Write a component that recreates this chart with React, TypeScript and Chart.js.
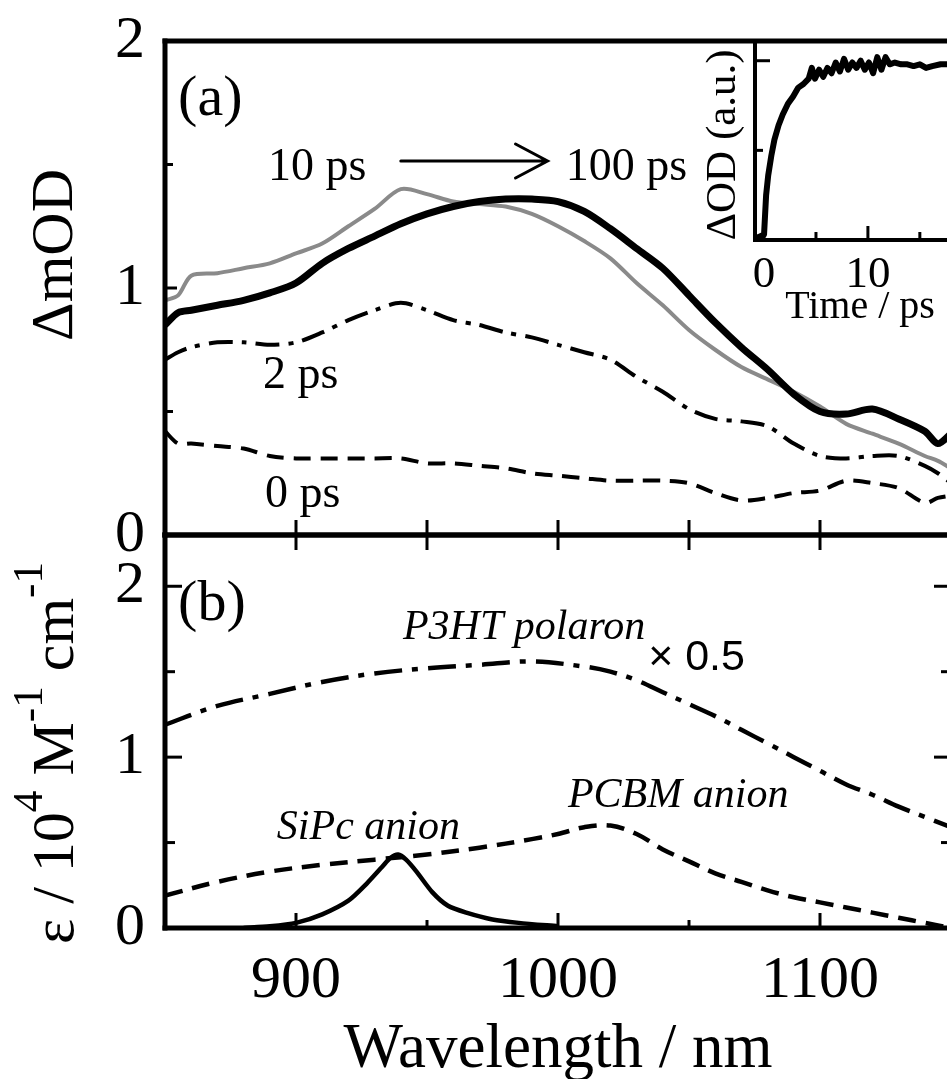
import React, { useEffect, useRef } from 'react';
import { Chart, registerables } from 'chart.js';

Chart.register(...registerables);

const W = 960;
const H = 1079;
const SERIF = '"Liberation Serif", "Times New Roman", serif';
const SANS = '"Liberation Sans", Arial, sans-serif';

// ---------- Panel (a): transient absorption spectra ----------
const WL_A = [850, 855, 860, 870, 880, 890, 900, 910, 920, 930, 940, 950, 960, 970, 980, 990, 1000, 1010, 1020, 1030, 1040, 1050, 1060, 1070, 1080, 1090, 1100, 1110, 1120, 1130, 1140, 1145, 1150];
const OD_100PS = [0.85, 0.9, 0.91, 0.93, 0.95, 0.98, 1.02, 1.1, 1.16, 1.21, 1.26, 1.3, 1.33, 1.35, 1.36, 1.36, 1.35, 1.31, 1.24, 1.16, 1.08, 0.97, 0.86, 0.76, 0.67, 0.57, 0.5, 0.49, 0.51, 0.47, 0.42, 0.37, 0.41];
const OD_10PS = [0.95, 0.97, 1.05, 1.06, 1.08, 1.1, 1.14, 1.18, 1.25, 1.32, 1.4, 1.38, 1.35, 1.34, 1.33, 1.3, 1.25, 1.19, 1.12, 1.02, 0.93, 0.83, 0.75, 0.68, 0.63, 0.58, 0.52, 0.45, 0.41, 0.37, 0.32, 0.3, 0.27];
const OD_2PS = [0.71, 0.74, 0.76, 0.78, 0.78, 0.77, 0.78, 0.82, 0.87, 0.91, 0.94, 0.91, 0.87, 0.85, 0.82, 0.8, 0.77, 0.74, 0.71, 0.64, 0.58, 0.51, 0.47, 0.46, 0.44, 0.37, 0.32, 0.31, 0.32, 0.32, 0.28, 0.25, 0.21];
const OD_0PS = [0.42, 0.37, 0.37, 0.36, 0.35, 0.32, 0.31, 0.31, 0.31, 0.31, 0.31, 0.29, 0.29, 0.28, 0.27, 0.25, 0.24, 0.23, 0.22, 0.22, 0.22, 0.21, 0.17, 0.14, 0.15, 0.17, 0.18, 0.22, 0.21, 0.19, 0.13, 0.15, 0.16];

// ---------- Panel (b): reference absorption spectra ----------
const WL_P3HT = [850, 870, 890, 910, 930, 950, 970, 990, 1010, 1020, 1030, 1040, 1050, 1060, 1070, 1080, 1090, 1100, 1110, 1120, 1130, 1140, 1150];
const EPS_P3HT = [1.19, 1.3, 1.37, 1.44, 1.49, 1.52, 1.54, 1.56, 1.53, 1.5, 1.45, 1.38, 1.31, 1.24, 1.16, 1.08, 1.0, 0.92, 0.84, 0.78, 0.71, 0.65, 0.59];
const WL_PCBM = [850, 870, 890, 910, 930, 950, 970, 990, 1000, 1010, 1020, 1030, 1040, 1050, 1060, 1070, 1080, 1090, 1100, 1110, 1120, 1130, 1140, 1150];
const EPS_PCBM = [0.19, 0.27, 0.33, 0.37, 0.4, 0.43, 0.47, 0.52, 0.55, 0.59, 0.6, 0.55, 0.46, 0.39, 0.32, 0.27, 0.22, 0.18, 0.15, 0.12, 0.09, 0.06, 0.03, 0.0];
const WL_SIPC = [880, 890, 900, 910, 920, 927, 933, 936, 939, 942, 946, 952, 958, 965, 975, 985, 1000];
const EPS_SIPC = [0.0, 0.01, 0.03, 0.08, 0.16, 0.26, 0.36, 0.41, 0.43, 0.4, 0.33, 0.21, 0.13, 0.09, 0.05, 0.03, 0.01];

// ---------- Inset: kinetic trace ----------
const TIME = [-0.8, -0.4, 0, 0.2, 0.4, 0.7, 1.0, 1.4, 1.8, 2.3, 2.8, 3.3, 3.8, 4.3, 4.6, 4.9, 5.3, 5.7, 6.1, 6.5, 6.9, 7.3, 7.7, 8.1, 8.5, 8.9, 9.3, 9.7, 10.1, 10.5, 10.9, 11.3, 11.7, 12.1, 12.6, 13.2, 13.8, 14.4, 15.0, 15.6, 16.2, 17.0, 18.0];
const KINETIC = [0.01, 0.02, 0.03, 0.25, 0.36, 0.47, 0.56, 0.64, 0.7, 0.76, 0.8, 0.85, 0.87, 0.9, 0.96, 0.9, 0.95, 0.91, 0.96, 0.93, 0.99, 0.94, 1.01, 0.95, 0.99, 0.96, 1.0, 0.95, 0.99, 0.93, 1.02, 0.95, 1.02, 0.98, 0.99, 0.98, 0.98, 0.97, 0.98, 0.96, 0.97, 0.98, 0.98];

// ---------- Tick labels ----------
const X_TICK_LABELS = [900, 1000, 1100];
const X_TICKS_ALL = [900, 950, 1000, 1050, 1100];
const Y_TICK_LABELS_A = [0, 1, 2];
const Y_TICK_LABELS_B = [0, 1, 2];
const INSET_X_LABELS = [0, 10];

type Side = 'top' | 'bottom' | 'left' | 'right';
type Txt = { t: string; x: number; y: number; font: string; align?: CanvasTextAlign; rot?: number; data?: boolean };
type Seg = { t: string; sup?: boolean };
type Decor = {
  frame: { sides: Side[]; width: number };
  ticks: { side: Side; values: number[]; len: number }[];
  xLabels?: { values: number[]; font: string; offset: number };
  yLabels?: { values: number[]; font: string; offset: number };
  texts: Txt[];
  rich?: { segs: Seg[]; x: number; y: number; size: number };
  arrow?: { from: [number, number]; to: [number, number] };
};

function pts(xs: number[], ys: number[]) {
  return xs.map((x, i) => ({ x, y: ys[i] }));
}

function drawDecor(chart: any, d: Decor) {
  const ctx: CanvasRenderingContext2D = chart.ctx;
  const { left, right, top, bottom } = chart.chartArea;
  const sx = chart.scales.x;
  const sy = chart.scales.y;
  ctx.save();
  ctx.strokeStyle = '#000';
  ctx.fillStyle = '#000';
  // ticks
  ctx.lineWidth = 3;
  ctx.lineCap = 'butt';
  for (const t of d.ticks) {
    for (const v of t.values) {
      ctx.beginPath();
      if (t.side === 'bottom' || t.side === 'top') {
        const p = sx.getPixelForValue(v);
        const y0 = t.side === 'bottom' ? bottom : top;
        const dir = t.side === 'bottom' ? -1 : 1;
        ctx.moveTo(p, y0);
        ctx.lineTo(p, y0 + dir * t.len);
      } else {
        const p = sy.getPixelForValue(v);
        const x0 = t.side === 'left' ? left : right;
        const dir = t.side === 'left' ? 1 : -1;
        ctx.moveTo(x0, p);
        ctx.lineTo(x0 + dir * t.len, p);
      }
      ctx.stroke();
    }
  }
  // frame
  ctx.lineWidth = d.frame.width;
  ctx.lineCap = 'square';
  for (const s of d.frame.sides) {
    ctx.beginPath();
    if (s === 'top') { ctx.moveTo(left, top); ctx.lineTo(right, top); }
    if (s === 'bottom') { ctx.moveTo(left, bottom); ctx.lineTo(right, bottom); }
    if (s === 'left') { ctx.moveTo(left, top); ctx.lineTo(left, bottom); }
    if (s === 'right') { ctx.moveTo(right, top); ctx.lineTo(right, bottom); }
    ctx.stroke();
  }
  // tick labels
  ctx.textBaseline = 'alphabetic';
  if (d.xLabels) {
    ctx.font = d.xLabels.font;
    ctx.textAlign = 'center';
    for (const v of d.xLabels.values) {
      ctx.fillText(String(v), sx.getPixelForValue(v), bottom + d.xLabels.offset);
    }
  }
  if (d.yLabels) {
    ctx.font = d.yLabels.font;
    ctx.textAlign = 'right';
    ctx.textBaseline = 'middle';
    for (const v of d.yLabels.values) {
      ctx.fillText(String(v), left - d.yLabels.offset, sy.getPixelForValue(v));
    }
  }
  // texts
  for (const s of d.texts) {
    let px = s.x;
    let py = s.y;
    if (s.data) {
      px = sx.getPixelForValue(s.x);
      py = sy.getPixelForValue(s.y);
    }
    ctx.save();
    ctx.translate(px, py);
    if (s.rot) ctx.rotate(s.rot);
    ctx.font = s.font;
    ctx.textAlign = s.align ?? 'left';
    ctx.textBaseline = 'alphabetic';
    ctx.fillText(s.t, 0, 0);
    ctx.restore();
  }
  // rich rotated title
  if (d.rich) {
    const r = d.rich;
    ctx.save();
    ctx.translate(r.x, r.y);
    ctx.rotate(-Math.PI / 2);
    ctx.textAlign = 'left';
    ctx.textBaseline = 'alphabetic';
    let cx = 0;
    for (const g of r.segs) {
      const fs = g.sup ? r.size * 0.72 : r.size;
      ctx.font = `${fs}px ${SERIF}`;
      ctx.fillText(g.t, cx, g.sup ? -r.size * 0.52 : 0);
      cx += ctx.measureText(g.t).width;
    }
    ctx.restore();
  }
  // arrow
  if (d.arrow) {
    const x0 = sx.getPixelForValue(d.arrow.from[0]);
    const y0 = sy.getPixelForValue(d.arrow.from[1]);
    const x1 = sx.getPixelForValue(d.arrow.to[0]);
    const y1 = sy.getPixelForValue(d.arrow.to[1]);
    ctx.lineWidth = 3;
    ctx.lineCap = 'round';
    ctx.beginPath();
    ctx.moveTo(x0, y0);
    ctx.lineTo(x1, y1);
    ctx.moveTo(x1 - 32, y1 - 17);
    ctx.lineTo(x1, y1);
    ctx.lineTo(x1 - 32, y1 + 17);
    ctx.stroke();
  }
  ctx.restore();
}

function build(
  canvas: HTMLCanvasElement,
  datasets: any[],
  xr: [number, number],
  yr: [number, number],
  padding: { left: number; top: number; right: number; bottom: number },
  decor: Decor,
  id: string
) {
  return new Chart(canvas, {
    type: 'line',
    data: { datasets },
    options: {
      animation: false,
      responsive: false,
      devicePixelRatio: 1,
      events: [],
      layout: { padding },
      plugins: { legend: { display: false }, tooltip: { enabled: false }, title: { display: false } },
      elements: { point: { radius: 0 }, line: { borderJoinStyle: 'round' } },
      scales: {
        x: { type: 'linear', min: xr[0], max: xr[1], display: false },
        y: { type: 'linear', min: yr[0], max: yr[1], display: false },
      },
    },
    plugins: [{ id, afterDraw: (chart: any) => drawDecor(chart, decor) }],
  } as any);
}

function buildA(canvas: HTMLCanvasElement) {
  const datasets = [
    { data: pts(WL_A, OD_100PS), borderColor: '#000', borderWidth: 7, tension: 0.3, order: 0 },
    { data: pts(WL_A, OD_10PS), borderColor: '#8a8a8a', borderWidth: 4, tension: 0.3, order: 1 },
    { data: pts(WL_A, OD_2PS), borderColor: '#000', borderWidth: 4, tension: 0.3, borderDash: [24, 9, 5, 9], order: 2 },
    { data: pts(WL_A, OD_0PS), borderColor: '#000', borderWidth: 4, tension: 0.3, borderDash: [17, 10], order: 3 },
  ];
  const decor: Decor = {
    frame: { sides: ['top', 'bottom', 'left', 'right'], width: 5 },
    ticks: [
      { side: 'left', values: [1], len: 12 },
      { side: 'left', values: [0.5, 1.5], len: 8 },
      { side: 'bottom', values: X_TICKS_ALL, len: 15 },
    ],
    yLabels: { values: Y_TICK_LABELS_A, font: `60px ${SERIF}`, offset: 20 },
    texts: [
      { t: 'ΔmOD', x: 72, y: 255, font: `60px ${SERIF}`, align: 'center', rot: -Math.PI / 2 },
      { t: '(a)', x: 855, y: 1.7, font: `58px ${SERIF}`, data: true },
      { t: '10 ps', x: 889.3, y: 1.437, font: `46px ${SERIF}`, data: true },
      { t: '100 ps', x: 1003, y: 1.437, font: `46px ${SERIF}`, data: true },
      { t: '2 ps', x: 887.4, y: 0.595, font: `46px ${SERIF}`, data: true },
      { t: '0 ps', x: 888.2, y: 0.113, font: `46px ${SERIF}`, data: true },
    ],
    arrow: { from: [940, 1.514], to: [996, 1.514] },
  };
  return build(canvas, datasets, [850, 1150], [0, 2], { left: 165, top: 41, right: W - 951, bottom: H - 535 }, decor, 'decorA');
}

function buildB(canvas: HTMLCanvasElement) {
  const datasets = [
    { data: pts(WL_SIPC, EPS_SIPC), borderColor: '#000', borderWidth: 4.5, tension: 0.25, order: 0 },
    { data: pts(WL_PCBM, EPS_PCBM), borderColor: '#000', borderWidth: 4.5, tension: 0.35, borderDash: [18, 10], order: 1 },
    { data: pts(WL_P3HT, EPS_P3HT), borderColor: '#000', borderWidth: 4.5, tension: 0.35, borderDash: [28, 10, 6, 10], order: 2 },
  ];
  const decor: Decor = {
    frame: { sides: ['top', 'bottom', 'left', 'right'], width: 5 },
    ticks: [
      { side: 'left', values: [1, 2], len: 17 },
      { side: 'left', values: [0.5, 1.5], len: 10 },
      { side: 'right', values: [1, 2], len: 17 },
      { side: 'right', values: [0.5, 1.5], len: 10 },
      { side: 'top', values: X_TICKS_ALL, len: 15 },
      { side: 'bottom', values: [900, 1000, 1100], len: 15 },
      { side: 'bottom', values: [950, 1050], len: 8 },
    ],
    xLabels: { values: X_TICK_LABELS, font: `60px ${SERIF}`, offset: 69 },
    yLabels: { values: Y_TICK_LABELS_B, font: `60px ${SERIF}`, offset: 20 },
    texts: [
      { t: '(b)', x: 855, y: 1.8, font: `58px ${SERIF}`, data: true },
      { t: 'P3HT polaron', x: 940.8, y: 1.69, font: `italic 42px ${SERIF}`, data: true },
      { t: '× 0.5', x: 1034.4, y: 1.51, font: `43px ${SANS}`, data: true },
      { t: 'PCBM anion', x: 1003.8, y: 0.71, font: `italic 42px ${SERIF}`, data: true },
      { t: 'SiPc anion', x: 892.7, y: 0.52, font: `italic 42px ${SERIF}`, data: true },
      { t: 'Wavelength / nm', x: 558, y: 1067, font: `63px ${SERIF}`, align: 'center' },
    ],
    rich: {
      x: 73,
      y: 944,
      size: 60,
      segs: [
        { t: 'ε / 10' },
        { t: '4', sup: true },
        { t: ' M' },
        { t: '-1', sup: true },
        { t: ' cm' },
        { t: '-1', sup: true },
      ],
    },
  };
  return build(canvas, datasets, [850, 1150], [0, 2.3], { left: 165, top: 535, right: W - 951, bottom: H - 928 }, decor, 'decorB');
}

function buildC(canvas: HTMLCanvasElement) {
  const datasets = [
    { data: pts(TIME, KINETIC), borderColor: '#000', borderWidth: 6, tension: 0 },
  ];
  const decor: Decor = {
    frame: { sides: ['left', 'bottom'], width: 4 },
    ticks: [
      { side: 'left', values: [1], len: 15 },
      { side: 'left', values: [0.5], len: 8 },
      { side: 'bottom', values: [0, 10], len: 14 },
      { side: 'bottom', values: [5, 15], len: 8 },
    ],
    xLabels: { values: INSET_X_LABELS, font: `45px ${SERIF}`, offset: 47 },
    texts: [
      { t: 'ΔOD (a.u.)', x: 735, y: 145, font: `43px ${SERIF}`, align: 'center', rot: -Math.PI / 2 },
      { t: 'Time / ps', x: 860, y: 318, font: `40px ${SERIF}`, align: 'center' },
    ],
  };
  return build(canvas, datasets, [-0.87, 18], [0, 1.11], { left: 755, top: 41, right: W - 951, bottom: H - 240 }, decor, 'decorC');
}

export default function App() {
  const refA = useRef<HTMLCanvasElement>(null);
  const refB = useRef<HTMLCanvasElement>(null);
  const refC = useRef<HTMLCanvasElement>(null);

  useEffect(() => {
    const charts = [buildA(refA.current!), buildB(refB.current!), buildC(refC.current!)];
    return () => charts.forEach((c) => c.destroy());
  }, []);

  const cs: React.CSSProperties = { position: 'absolute', left: 0, top: 0, width: W, height: H };
  return (
    <div style={{ position: 'fixed', left: 0, top: 0, width: 947, height: 1079, overflow: 'hidden', background: '#fff' }}>
      <canvas ref={refA} width={W} height={H} style={cs} />
      <canvas ref={refB} width={W} height={H} style={cs} />
      <canvas ref={refC} width={W} height={H} style={cs} />
    </div>
  );
}
